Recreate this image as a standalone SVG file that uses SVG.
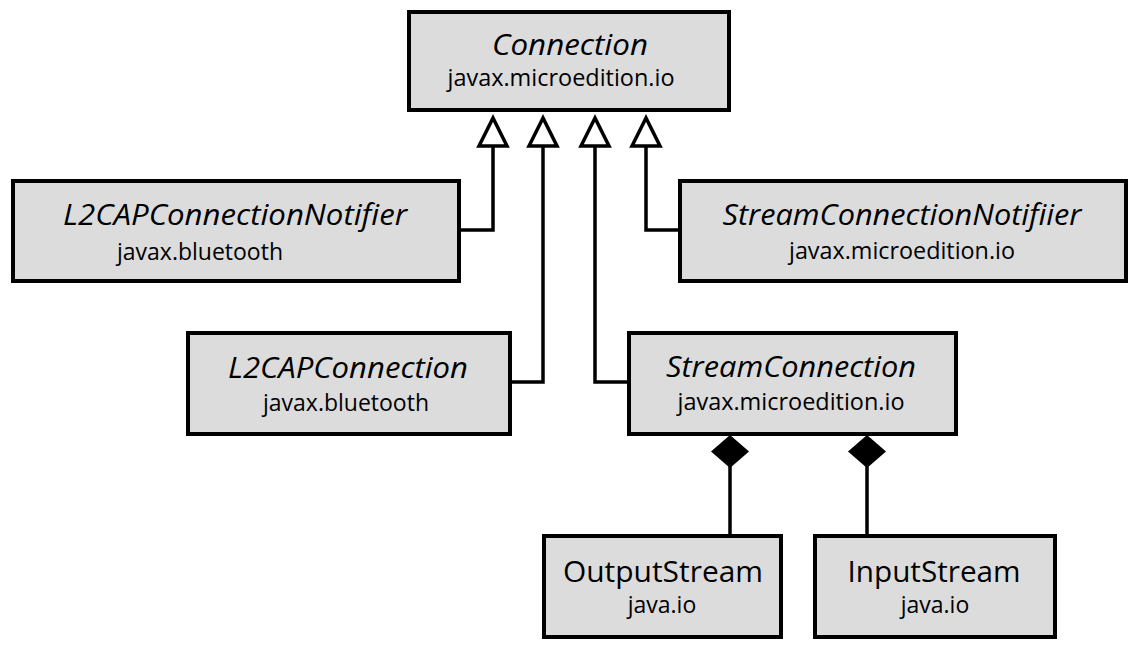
<svg xmlns="http://www.w3.org/2000/svg" width="1142" height="648" viewBox="0 0 1142 648">
  <style>
    .box { fill: #dcdcdc; stroke: #000; stroke-width: 4; }
    .title { font-family: "Open Sans", "Liberation Sans", sans-serif; font-size: 30px; font-style: italic; text-anchor: middle; fill: #000; }
    .title2 { font-family: "Open Sans", "Liberation Sans", sans-serif; font-size: 30px; text-anchor: middle; fill: #000; }
    .sub { font-family: "Open Sans", "Liberation Sans", sans-serif; font-size: 23px; text-anchor: middle; fill: #000; }
    .line { fill: none; stroke: #000; stroke-width: 3.5; }
    .tri { fill: #fff; stroke: #000; stroke-width: 3.5; stroke-linejoin: miter; }
    .dia { fill: #000; stroke: none; }
  </style>
  <rect width="1142" height="648" fill="#fff"/>

  <g id="connectors">
    <polyline class="line" points="459,230 493,230 493,146"/>
    <polyline class="line" points="510,382 543,382 543,146"/>
    <polyline class="line" points="629,382 595,382 595,146"/>
    <polyline class="line" points="680,230 646,230 646,146"/>
    <polygon class="tri" points="493,118 479,146 507,146"/>
    <polygon class="tri" points="543,118 529,146 557,146"/>
    <polygon class="tri" points="595,118 581,146 609,146"/>
    <polygon class="tri" points="646,118 632,146 660,146"/>
    <line class="line" x1="730" y1="466" x2="730" y2="536"/>
    <line class="line" x1="867" y1="466" x2="867" y2="536"/>
    <polygon class="dia" points="730,435 749,451.5 730,468 711,451.5"/>
    <polygon class="dia" points="867,435 886,451.5 867,468 848,451.5"/>
  </g>

  <g id="Connection">
    <rect class="box" x="409" y="12" width="320" height="98"/>
    <text class="title" x="570" y="55" textLength="156" lengthAdjust="spacingAndGlyphs">Connection</text>
    <text class="sub" x="561" y="86" textLength="227" lengthAdjust="spacingAndGlyphs">javax.microedition.io</text>
  </g>

  <g id="L2CAPConnectionNotifier">
    <rect class="box" x="13" y="181" width="446" height="100"/>
    <text class="title" x="235" y="225" textLength="344" lengthAdjust="spacingAndGlyphs">L2CAPConnectionNotifier</text>
    <text class="sub" x="200" y="260">javax.bluetooth</text>
  </g>

  <g id="StreamConnectionNotifiier">
    <rect class="box" x="680" y="181" width="446" height="100"/>
    <text class="title" x="902" y="225" textLength="359" lengthAdjust="spacingAndGlyphs">StreamConnectionNotifiier</text>
    <text class="sub" x="902" y="259" textLength="226" lengthAdjust="spacingAndGlyphs">javax.microedition.io</text>
  </g>

  <g id="L2CAPConnection">
    <rect class="box" x="188" y="333" width="322" height="101"/>
    <text class="title" x="348" y="378" textLength="240" lengthAdjust="spacingAndGlyphs">L2CAPConnection</text>
    <text class="sub" x="346" y="411">javax.bluetooth</text>
  </g>

  <g id="StreamConnection">
    <rect class="box" x="629" y="333" width="327" height="101"/>
    <text class="title" x="791" y="377" textLength="250" lengthAdjust="spacingAndGlyphs">StreamConnection</text>
    <text class="sub" x="791" y="410" textLength="227" lengthAdjust="spacingAndGlyphs">javax.microedition.io</text>
  </g>

  <g id="OutputStream">
    <rect class="box" x="544" y="536" width="237" height="101"/>
    <text class="title2" x="663" y="582" textLength="200" lengthAdjust="spacingAndGlyphs">OutputStream</text>
    <text class="sub" x="662" y="613">java.io</text>
  </g>

  <g id="InputStream">
    <rect class="box" x="815" y="536" width="240" height="101"/>
    <text class="title2" x="934" y="582" textLength="173" lengthAdjust="spacingAndGlyphs">InputStream</text>
    <text class="sub" x="935" y="613">java.io</text>
  </g>
</svg>
